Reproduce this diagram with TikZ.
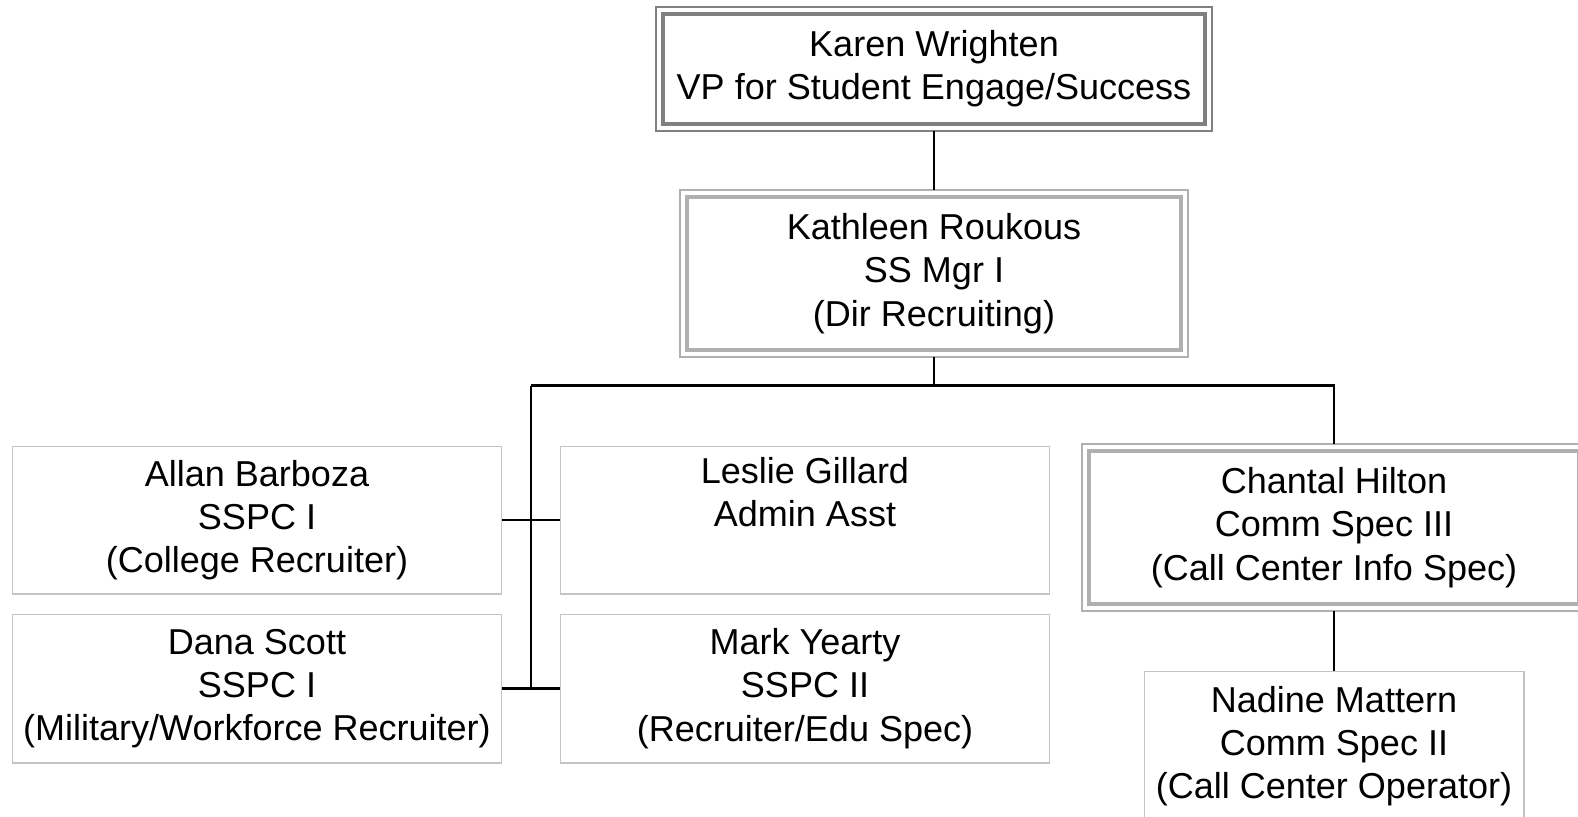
\documentclass[tikz,border=0pt]{standalone}
\usepackage{fontspec}
\setmainfont{Liberation Sans}
\usetikzlibrary{calc}
\definecolor{orgFrameDark}{HTML}{808080}
\definecolor{orgFrameLight}{HTML}{B0B0B0}
\definecolor{orgFramePlain}{HTML}{C4C4C4}
\begin{document}
\begin{tikzpicture}[x=0.02cm,y=-0.02cm]
\tikzset{
    orgBox/.style={rectangle,draw=orgFramePlain,line width=0.6pt,minimum width=9.8cm,minimum height=2.96cm,align=center,font=\fontsize{20.5}{24.6}\selectfont},
    orgBoxHead/.style={orgBox,draw=orgFrameLight,line width=2.5pt,outer sep=4pt},
    orgBoxTop/.style={orgBoxHead,draw=orgFrameDark},
    orgFrame/.style={draw=orgFrameLight,line width=1pt},
    orgLink/.style={draw=black,line width=1.3pt},
}
\clip (0,0) rectangle (1578,816);
\node[orgBoxTop,minimum width=10.84cm,minimum height=2.2cm] (karen) at (934,69) {Karen Wrighten\\VP for Student Engage/Success};
\node[orgBoxHead,minimum width=9.88cm,minimum height=3.06cm] (kathleen) at (934,273.5) {Kathleen Roukous\\SS Mgr I\\(Dir Recruiting)};
\node[orgBoxHead,minimum height=3.06cm] (chantal) at (1334,527.5) {Chantal Hilton\\Comm Spec III\\(Call Center Info Spec)};

\draw[orgFrame,draw=orgFrameDark] (karen.north west) rectangle (karen.south east);
\foreach \n in {kathleen,chantal} {
    \draw[orgFrame] (\n.north west) rectangle (\n.south east);
}

\node[orgBox] (allan) at (257,520) {Allan Barboza\\SSPC I\\(College Recruiter)};
\node[orgBox] (leslie) at (805,520) {Leslie Gillard\\Admin Asst\\\strut};
\node[orgBox,minimum height=2.98cm] (dana) at (257,688.5) {Dana Scott\\SSPC I\\(Military/Workforce Recruiter)};
\node[orgBox,minimum height=2.98cm] (mark) at (805,688.5) {Mark Yearty\\SSPC II\\(Recruiter/Edu Spec)};
\node[orgBox,minimum width=7.6cm,minimum height=3cm] (nadine) at (1334,746) {Nadine Mattern\\Comm Spec II\\(Call Center Operator)};

\coordinate (busL) at (531,385.5);
\coordinate (busR) at (1334,385.5);
\draw[orgLink] (karen.south) -- (kathleen.north);
\draw[orgLink] (kathleen.south) -- (kathleen.south |- busL);
\draw[orgLink] (busL) -- (busR) -- (chantal.north);
\draw[orgLink] (busL) -- (busL |- dana.east);
\draw[orgLink] (allan.east) -- (leslie.west);
\draw[orgLink] (dana.east) -- (mark.west);
\draw[orgLink] (chantal.south) -- (nadine.north);
\end{tikzpicture}
\end{document}
